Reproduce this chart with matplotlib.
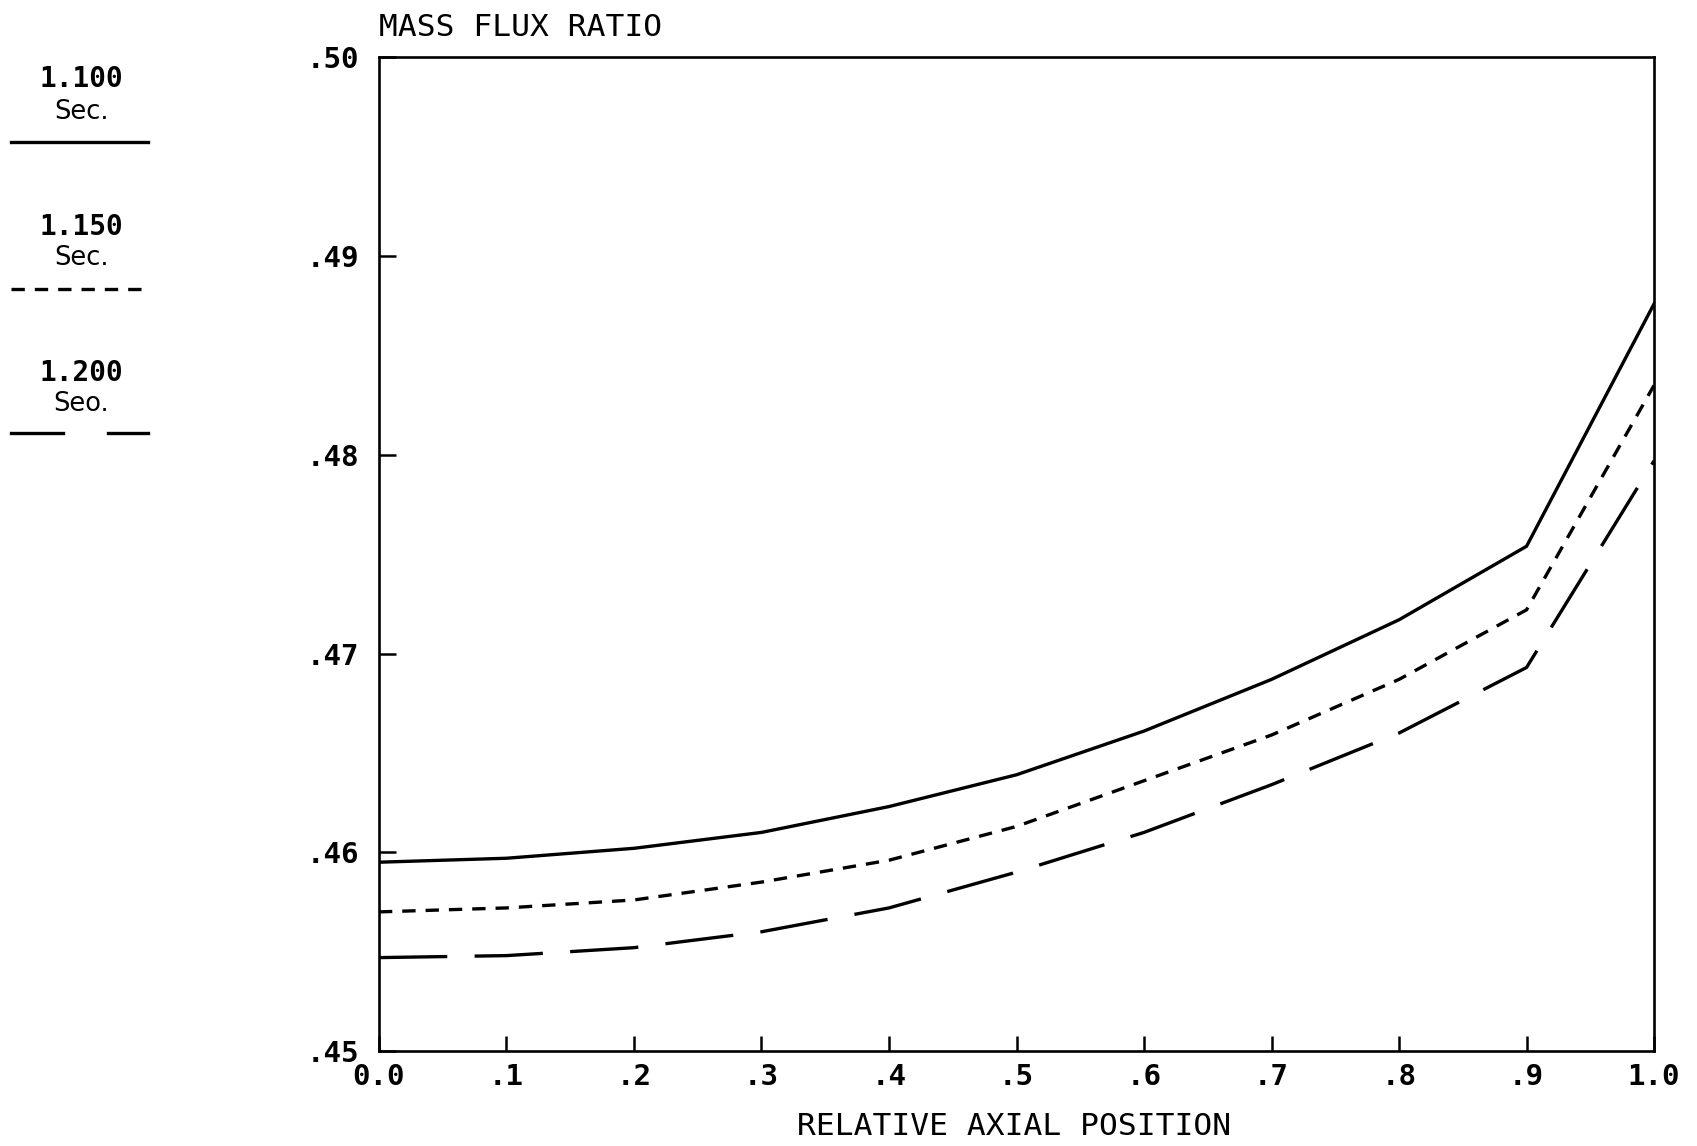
import matplotlib
matplotlib.use("Agg")
import matplotlib.pyplot as plt
from matplotlib.lines import Line2D

# Relative axial position and mass flux ratio at three times
position = [0.0, 0.1, 0.2, 0.3, 0.4, 0.5, 0.6, 0.7, 0.8, 0.9, 1.0]
flux_1100 = [0.4595, 0.4597, 0.4602, 0.4610, 0.4623, 0.4639, 0.4661, 0.4687, 0.4717, 0.4754, 0.4876]
flux_1150 = [0.4570, 0.4572, 0.4576, 0.4585, 0.4596, 0.4613, 0.4636, 0.4659, 0.4687, 0.4722, 0.4835]
flux_1200 = [0.4547, 0.4548, 0.4552, 0.4560, 0.4572, 0.4590, 0.4610, 0.4634, 0.4660, 0.4693, 0.4797]

x_ticks = [0.0, 0.1, 0.2, 0.3, 0.4, 0.5, 0.6, 0.7, 0.8, 0.9, 1.0]
x_tick_labels = ["0.0", ".1", ".2", ".3", ".4", ".5", ".6", ".7", ".8", ".9", "1.0"]
y_ticks = [0.45, 0.46, 0.47, 0.48, 0.49, 0.50]
y_tick_labels = [".45", ".46", ".47", ".48", ".49", ".50"]
legend_times = ["1.100", "1.150", "1.200"]
legend_units = ["Sec.", "Sec.", "Seo."]

MONO = "DejaVu Sans Mono"
LW = 2.4
SHORT = (4.0, 3.0)
LONG = (20.5, 8.2)

fig = plt.figure(figsize=(16.97, 11.46), dpi=100)
ax = fig.add_axes([0.2233, 0.0829, 0.9747 - 0.2233, 0.9499 - 0.0829])

ax.plot(position, flux_1100, color="black", lw=LW, solid_joinstyle="miter")
ax.plot(position, flux_1150, color="black", lw=LW, linestyle=(0, SHORT))
ax.plot(position, flux_1200, color="black", lw=LW, linestyle=(0, LONG))

ax.set_xlim(0.0, 1.0)
ax.set_ylim(0.45, 0.50)
ax.set_xticks(x_ticks)
ax.set_xticklabels(x_tick_labels, family=MONO, fontsize=21, fontweight="bold")
ax.set_yticks(y_ticks)
ax.set_yticklabels(y_tick_labels, family=MONO, fontsize=21, fontweight="bold")
ax.tick_params(axis="x", direction="in", length=11, width=1.8, pad=9)
ax.tick_params(axis="y", direction="in", length=12, width=1.8, pad=14)
for sp in ax.spines.values():
    sp.set_linewidth(1.9)
# the lowest y label sits a little below its tick
ax.get_yticklabels()[0].set_y(0.4497)

fig.text(0.2233, 1 - 36 / 1146, "MASS FLUX RATIO", family=MONO, fontsize=22.5,
         ha="left", va="baseline")
fig.text(0.5976, 0.0166, "RELATIVE AXIAL POSITION", family=MONO, fontsize=22.5,
         ha="center", va="center")

# Hand-drawn style key on the left margin
key_x = 0.0478
time_y = [0.931, 0.8017, 0.6742]
unit_y = [0.9027, 0.7752, 0.6477]
line_y = [0.8763, 0.7478, 0.6222]
for t, u, ty, uy in zip(legend_times, legend_units, time_y, unit_y):
    fig.text(key_x, ty, t, family=MONO, fontsize=20, fontweight="bold",
             ha="center", va="center")
    fig.text(key_x, uy, u, family="DejaVu Sans", fontsize=18.5,
             ha="center", va="center")

fig.add_artist(Line2D([0.0064, 0.0874], [line_y[0]] * 2, color="black", lw=LW))
fig.add_artist(Line2D([0.0064, 0.0829], [line_y[1]] * 2, color="black", lw=LW,
                      linestyle=(0, SHORT)))
fig.add_artist(Line2D([0.0064, 0.0371], [line_y[2]] * 2, color="black", lw=LW))
fig.add_artist(Line2D([0.0636, 0.0874], [line_y[2]] * 2, color="black", lw=LW))

fig.savefig("out.png", dpi=100, facecolor="white")
